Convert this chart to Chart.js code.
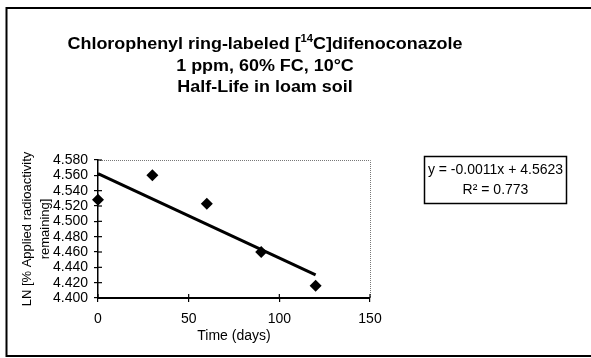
<!DOCTYPE html>
<html>
<head>
<meta charset="utf-8">
<script src="https://cdn.jsdelivr.net/npm/chart.js@4/dist/chart.umd.min.js"></script>
<style>
  html, body { margin: 0; padding: 0; background: #fff; }
  #wrap { width: 591px; height: 358px; position: relative; }
</style>
</head>
<body>
<div id="wrap"><canvas id="myChart" width="591" height="358"></canvas></div>
<script>
// measured points (days, LN % applied radioactivity remaining)
let timeDays = [0, 30, 60, 90, 120];
let lnRemaining = [4.528, 4.560, 4.523, 4.460, 4.416];

// regression line end points, from y = -0.0011x + 4.5623
let trendX = [0, 120];
let trendY = [4.5623, 4.4303];

let titleLines = ["Chlorophenyl ring-labeled [", "1 ppm, 60% FC, 10°C", "Half-Life in loam soil"];
let eqLines = ["y = -0.0011x + 4.5623", "R² = 0.773"];

let xTitle = "Time (days)";
let yTitle = ["LN [% Applied radioactivity", "remaining]"];

let ctx = document.getElementById("myChart");

let pointsData = timeDays.map((t, i) => ({ x: t, y: lnRemaining[i] }));
let trendData = trendX.map((t, i) => ({ x: t, y: trendY[i] }));

// frame, titles, equation box, dotted plot border, inner tick halves
let extras = {
  id: "extras",
  beforeDraw: (chart) => {
    let c = chart.ctx;
    c.save();
    c.fillStyle = "#fff";
    c.fillRect(0, 0, chart.width, chart.height);
    c.strokeStyle = "#000";
    c.lineWidth = 2;
    c.beginPath();
    c.moveTo(591, 8);
    c.lineTo(6.5, 8);
    c.lineTo(6.5, 356);
    c.lineTo(591, 356);
    c.stroke();
    c.restore();
  },
  afterDraw: (chart) => {
    let c = chart.ctx;
    let a = chart.chartArea;
    c.save();

    // dotted top / right border of plot
    c.strokeStyle = "#777";
    c.lineWidth = 1;
    c.setLineDash([1, 1]);
    c.beginPath();
    c.moveTo(a.left, a.top + 0.5);
    c.lineTo(a.right + 0.5, a.top + 0.5);
    c.lineTo(a.right + 0.5, a.bottom);
    c.stroke();
    c.setLineDash([]);

    // tick marks cross the axes
    c.strokeStyle = "#000";
    c.lineWidth = 1.2;
    let ys = chart.scales.y;
    ys.ticks.forEach((t) => {
      let py = ys.getPixelForValue(t.value);
      c.beginPath();
      c.moveTo(a.left, py);
      c.lineTo(a.left + 4, py);
      c.stroke();
    });
    let xs = chart.scales.x;
    xs.ticks.forEach((t) => {
      let px = xs.getPixelForValue(t.value);
      c.beginPath();
      c.moveTo(px, a.bottom);
      c.lineTo(px, a.bottom - 4);
      c.stroke();
    });

    // titles (the scanned text is wider than it is tall, so stretch a bit)
    c.fillStyle = "#000";
    c.textBaseline = "middle";
    let big = "bold 16px 'Liberation Sans', Arial, sans-serif";
    let small = "bold 10px 'Liberation Sans', Arial, sans-serif";
    c.font = big;
    let p1 = titleLines[0], p3 = "C]difenoconazole";
    let w1 = c.measureText(p1).width;
    let w3 = c.measureText(p3).width;
    c.font = small;
    let w2 = c.measureText("14").width;
    let total = w1 + w2 + w3;
    let sx = 395 / total;
    c.save();
    c.translate(265, 0);
    c.scale(sx, 1);
    let x0 = -total / 2;
    c.font = big;
    c.textAlign = "left";
    c.fillText(p1, x0, 45);
    c.font = small;
    c.fillText("14", x0 + w1, 39);
    c.font = big;
    c.fillText(p3, x0 + w1 + w2, 45);
    c.textAlign = "center";
    c.fillText(titleLines[1], 0, 67);
    c.fillText(titleLines[2], 0, 88);
    c.restore();

    // equation box
    c.lineWidth = 1.5;
    c.textAlign = "center";
    c.strokeRect(424.5, 156.5, 142, 47);
    c.font = "14px 'Liberation Sans', Arial, sans-serif";
    c.fillText(eqLines[0], 495.5, 170);
    c.fillText(eqLines[1], 495.5, 190);
    c.restore();
  }
};

let myChart = new Chart(ctx, {
  type: "scatter",
  data: {
    datasets: [
      {
        label: "LN remaining",
        data: pointsData,
        pointStyle: "rectRot",
        pointRadius: 6,
        pointHoverRadius: 6,
        backgroundColor: "#000",
        borderColor: "#000",
        borderWidth: 0,
        clip: false
      },
      {
        label: "Linear",
        data: trendData,
        showLine: true,
        borderColor: "#000",
        borderWidth: 3,
        pointRadius: 0,
        borderCapStyle: "butt",
        clip: false
      }
    ]
  },
  options: {
    responsive: false,
    animation: false,
    events: [],
    layout: { padding: { left: 0, right: 221, top: 160, bottom: 0 } },
    plugins: {
      legend: { display: false },
      tooltip: { enabled: false }
    },
    scales: {
      x: {
        type: "linear",
        min: 0,
        max: 150,
        afterFit: (s) => { s.height = 60; },
        ticks: {
          stepSize: 50,
          color: "#000",
          padding: 9,
          font: { family: "'Liberation Sans', Arial, sans-serif", size: 14 }
        },
        grid: { drawOnChartArea: false, tickLength: 4, color: "#000", lineWidth: 1.2 },
        border: { color: "#000", width: 2 },
        title: {
          display: true,
          text: xTitle,
          color: "#000",
          padding: { top: 0, bottom: 13 },
          font: { family: "'Liberation Sans', Arial, sans-serif", size: 14 }
        }
      },
      y: {
        min: 4.4,
        max: 4.58,
        afterFit: (s) => { s.width = 98; },
        ticks: {
          stepSize: 0.02,
          autoSkip: false,
          color: "#000",
          padding: 6,
          callback: (v) => v.toFixed(3),
          font: { family: "'Liberation Sans', Arial, sans-serif", size: 14 }
        },
        grid: { drawOnChartArea: false, tickLength: 4, color: "#000", lineWidth: 1.2 },
        border: { color: "#000", width: 1.5 },
        title: {
          display: true,
          text: yTitle,
          color: "#000",
          padding: { top: 18, bottom: 0 },
          font: { family: "'Liberation Sans', Arial, sans-serif", size: 13, lineHeight: 1.4 }
        }
      }
    }
  },
  plugins: [extras]
});
</script>
</body>
</html>
